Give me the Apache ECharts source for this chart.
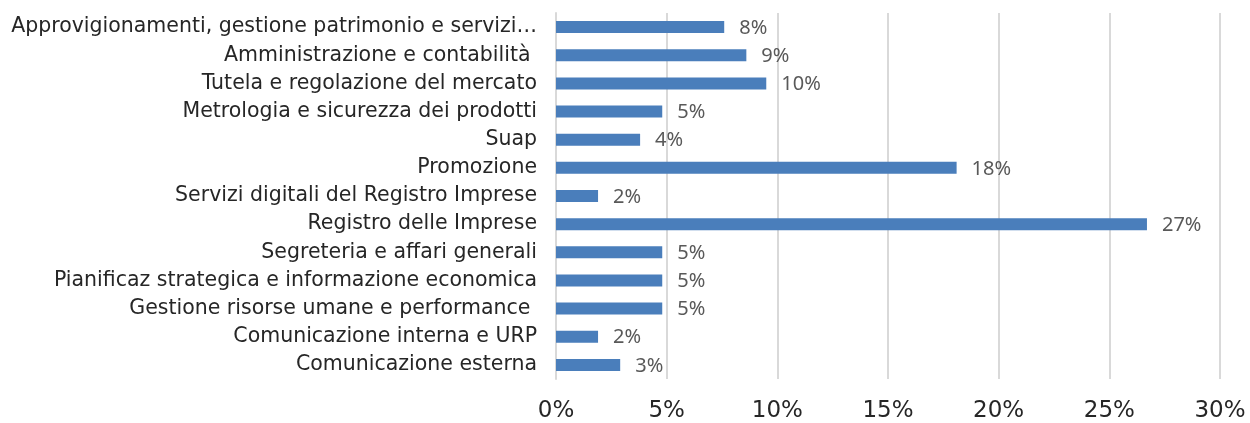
<!DOCTYPE html>
<html>
<head>
<meta charset="UTF-8">
<script src="https://cdn.jsdelivr.net/npm/echarts@6/dist/echarts.min.js"></script>
<style>
body { margin:0; padding:0; width:1250px; height:423px; background:#fff; }
#chart { width:1250px; height:423px; }
</style>
</head>
<body><div id="chart"></div>
<script>
// categories, top to bottom
const categories = [
  'Approvigionamenti, gestione patrimonio e servizi…',
  'Amministrazione e contabilità ',
  'Tutela e regolazione del mercato',
  'Metrologia e sicurezza dei prodotti',
  'Suap',
  'Promozione',
  'Servizi digitali del Registro Imprese',
  'Registro delle Imprese',
  'Segreteria e affari generali',
  'Pianificaz strategica e informazione economica',
  'Gestione risorse umane e performance ',
  'Comunicazione interna e URP',
  'Comunicazione esterna'
];
// share in percent
const shares = [7.6, 8.6, 9.5, 4.8, 3.8, 18.1, 1.9, 26.7, 4.8, 4.8, 4.8, 1.9, 2.9];
const xTicks = [0, 5, 10, 15, 20, 25, 30];

const c = echarts.init(document.getElementById('chart'));
c.setOption({
  animation: false,
  grid: { left: 556, right: 30, top: 13, bottom: 43, containLabel: false },
  xAxis: {
    type: 'value',
    min: xTicks[0],
    max: xTicks[xTicks.length - 1],
    interval: 5,
    axisLine: { show: false },
    axisTick: { show: false },
    splitLine: { show: true, lineStyle: { color: '#d9d9d9', width: 2 } },
    axisLabel: {
      formatter: v => v + '%',
      fontFamily: 'DejaVu Sans',
      fontSize: 23,
      color: '#262626',
      margin: 21
    }
  },
  yAxis: {
    type: 'category',
    inverse: true,
    data: categories,
    axisLine: { show: true, lineStyle: { color: '#d9d9d9', width: 2 } },
    axisTick: { show: false },
    axisLabel: {
      fontFamily: 'DejaVu Sans',
      fontSize: 20.5,
      color: '#262626',
      margin: 19,
      padding: [4, 0, 0, 0]
    }
  },
  series: [{
    type: 'bar',
    data: shares,
    barWidth: 12,
    itemStyle: { color: '#4a7ebb' },
    label: {
      show: true,
      position: 'right',
      distance: 15,
      formatter: p => Math.round(p.value) + '%',
      fontFamily: 'Noto Sans',
      fontSize: 20,
      color: '#595959',
      offset: [0, 1]
    }
  }]
});
</script>
</body></html>
